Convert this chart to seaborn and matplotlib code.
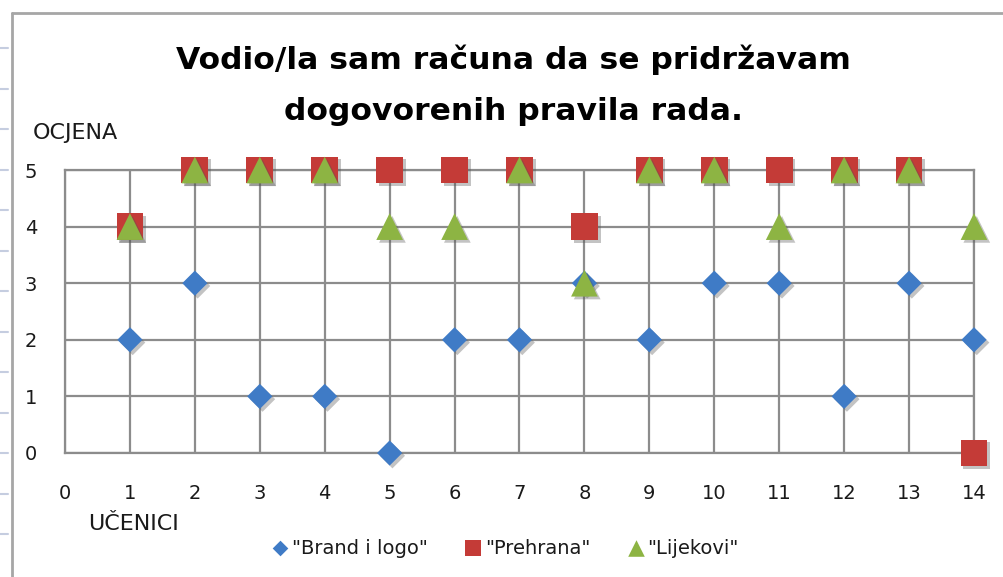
import matplotlib
matplotlib.use("Agg")
import matplotlib.pyplot as plt
import matplotlib.patheffects as pe
from matplotlib.lines import Line2D
import seaborn as sns
import pandas as pd

students = [1, 2, 3, 4, 5, 6, 7, 8, 9, 10, 11, 12, 13, 14]
brand_i_logo = [2, 3, 1, 1, 0, 2, 2, 3, 2, 3, 3, 1, 3, 2]
prehrana = [4, 5, 5, 5, 5, 5, 5, 4, 5, 5, 5, 5, 5, 0]
lijekovi = [4, 5, 5, 5, 4, 4, 5, 3, 5, 5, 4, 5, 5, 4]
series_names = ['"Brand i logo"', '"Prehrana"', '"Lijekovi"']
title_lines = ["Vodio/la sam računa da se pridržavam", "dogovorenih pravila rada."]
x_ticks = list(range(0, 15))
y_ticks = list(range(0, 6))

sns.set_theme(style="white")
plt.rcParams['font.family'] = ['DejaVu Sans']

fig = plt.figure(figsize=(10.04, 5.77), dpi=100)
ax = fig.add_axes([65 / 1004, 1 - 453 / 577, (974 - 65) / 1004, (453 - 170) / 577])

df = pd.DataFrame({"x": students, "brand": brand_i_logo, "preh": prehrana, "lij": lijekovi})

shadow = [pe.SimplePatchShadow(offset=(2, -2), alpha=0.35, shadow_rgbFace="#555555"), pe.Normal()]

specs = [
    ("brand", "D", 165, "#3F7BC6", series_names[0]),
    ("preh", "s", 370, "#C43B37", series_names[1]),
    ("lij", "^", 370, "#8DB443", series_names[2]),
]
for col, mk, sz, colr, lab in specs:
    sns.scatterplot(data=df, x="x", y=col, marker=mk, s=sz, color=colr,
                    linewidth=0, ax=ax, label=lab, clip_on=False, zorder=3)
for coll in ax.collections:
    coll.set_path_effects(shadow)
    coll.set_clip_on(False)

ax.set_xlim(0, 14)
ax.set_ylim(0, 5)
ax.set_xticks(x_ticks)
ax.set_yticks(y_ticks)
ax.set_xticklabels([str(v) for v in x_ticks])
ax.set_yticklabels([str(v) for v in y_ticks])
ax.grid(True, color="#8C8C8C", linewidth=1.6)
ax.set_axisbelow(True)
for sp in ax.spines.values():
    sp.set_visible(True)
    sp.set_color("#8C8C8C")
    sp.set_linewidth(1.6)
ax.tick_params(axis="both", length=0, labelsize=14, labelcolor="#1a1a1a")
ax.tick_params(axis="x", pad=22)
ax.tick_params(axis="y", pad=20)
ax.set_xlabel("")
ax.set_ylabel("")

leg = ax.legend(loc="center", bbox_to_anchor=(0.503, 1 - 548 / 577), bbox_transform=fig.transFigure,
                ncol=3, frameon=False, fontsize=14, handletextpad=0.15, columnspacing=1.9,
                borderaxespad=0, handlelength=0.9, markerscale=0.62)
for t in leg.get_texts():
    t.set_color("#1a1a1a")
for h in leg.legend_handles:
    h.set_path_effects([])

fig.text(0.511, 1 - 60 / 577, title_lines[0], ha="center", va="center",
         fontsize=22.6, fontweight="bold", color="black")
fig.text(0.511, 1 - 112 / 577, title_lines[1], ha="center", va="center",
         fontsize=22.6, fontweight="bold", color="black")
fig.text(33 / 1004, 1 - 133 / 577, "OCJENA", ha="left", va="center", fontsize=16, color="#1a1a1a")
fig.text(88 / 1004, 1 - 524 / 577, "UČENICI", ha="left", va="center", fontsize=16, color="#1a1a1a")

# outer frame of the chart area
fig.add_artist(Line2D([12 / 1004, 12 / 1004], [0, 1 - 13 / 577], color="#A6A6A6", linewidth=2,
                      transform=fig.transFigure))
fig.add_artist(Line2D([12 / 1004, 1], [1 - 13 / 577, 1 - 13 / 577], color="#A6A6A6", linewidth=2,
                      transform=fig.transFigure))
for i in range(13):
    yy = 1 - (48 + 40.5 * i) / 577
    fig.add_artist(Line2D([0, 8 / 1004], [yy, yy], color="#C5CDE0", linewidth=1.5,
                          transform=fig.transFigure))

fig.savefig("out.png", dpi=100)
